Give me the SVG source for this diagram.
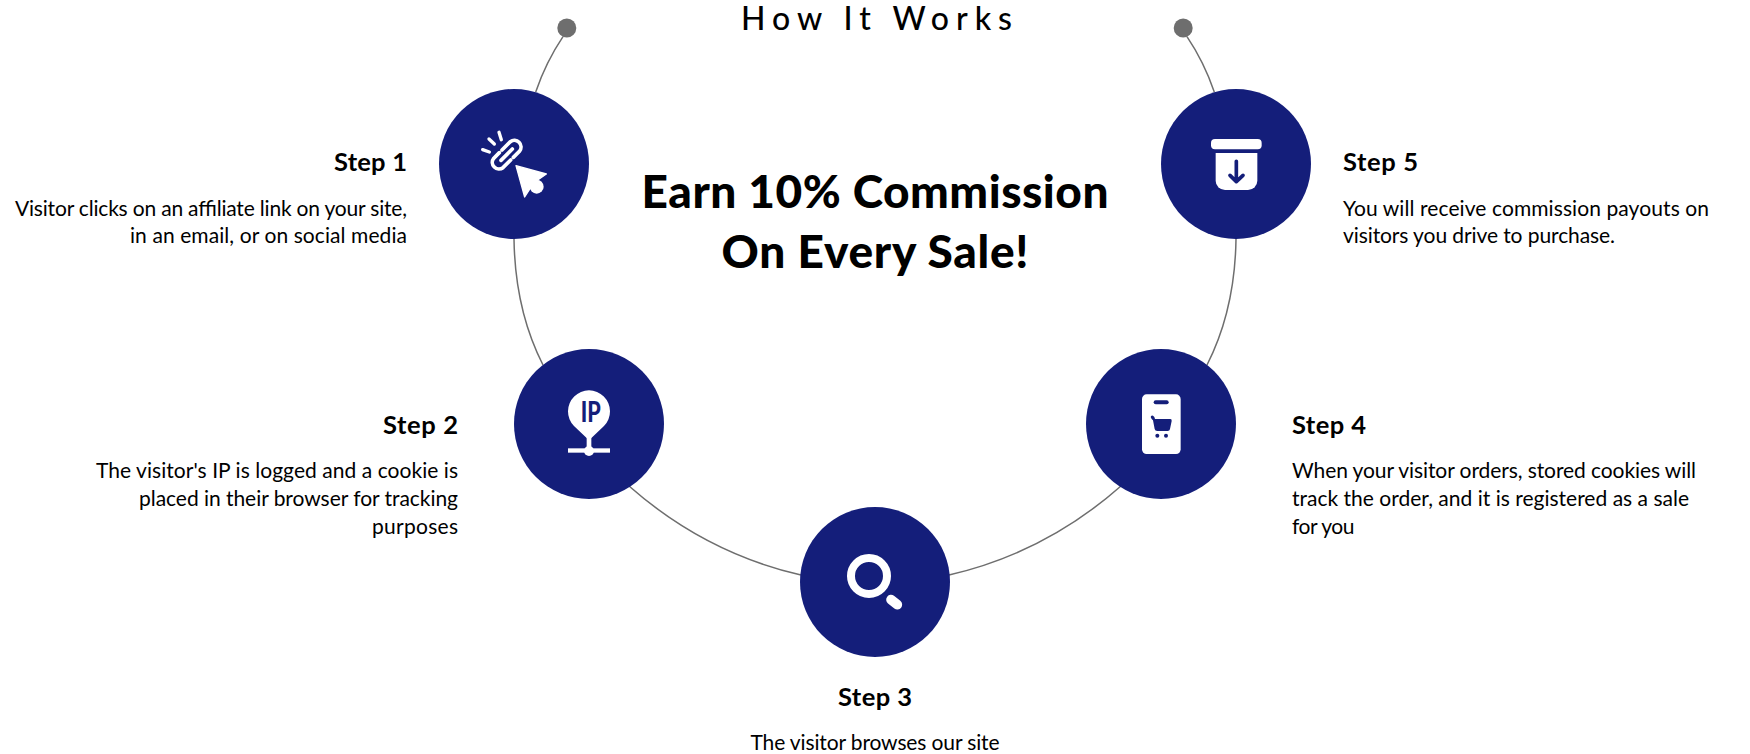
<svg xmlns="http://www.w3.org/2000/svg" width="1750" height="754" viewBox="0 0 1750 754">
<style>
text{font-family:"Lato","Liberation Sans",sans-serif;fill:#000}
.b{font-size:21px}
.s{font-size:25.500px;font-weight:700}
.h{font-size:46px;font-weight:900}
.c{fill:#141e7a}
.l{fill:none;stroke:#6e6e6e;stroke-width:1.500}
.w{fill:#fff}
.r{text-anchor:end}
.m{text-anchor:middle}
</style>
<rect width="1750" height="754" fill="#fff"/>
<g id="connectors">
<path class="l" d="M563 36.700Q546 62 535.700 92"/>
<path class="l" d="M514 239Q515 310 543 365"/>
<path class="l" d="M629 486Q705 553 801 575"/>
<path class="l" d="M949 575Q1045 553 1121 486"/>
<path class="l" d="M1207 365Q1235 310 1236 239"/>
<path class="l" d="M1214.300 92Q1204 62 1187 36.700"/>
<circle cx="566.800" cy="28" r="9.500" fill="#6e6e6e"/>
<circle cx="1183.200" cy="28" r="9.500" fill="#6e6e6e"/>
</g>
<g id="title"><text x="741" y="30" font-size="32" font-weight="500" textLength="271" lengthAdjust="spacing">How It Works</text></g>
<g id="headline">
<text class="h m" x="875" y="208" textLength="467" lengthAdjust="spacing">Earn 10% Commission</text>
<text class="h m" x="875" y="268" textLength="307" lengthAdjust="spacing">On Every Sale!</text>
</g>
<g id="step1">
<circle class="c" cx="514" cy="164" r="75"/>
<g transform="translate(480 128) scale(.33333)">
<path d="M66 66L91 41A20 20 0 0 1 119 69L100 88M58 74L41 91A20 20 0 0 0 69 119L92 96M63 97L97 63" fill="none" stroke="#fff" stroke-width="11" stroke-linecap="round"/>
<path d="M8 65L28 72M27 33L43 48M57 13L64 35" fill="none" stroke="#fff" stroke-width="10" stroke-linecap="round"/>
<path class="w" d="M108 113L199 138L170 158L150 182L134 207Z" stroke="#fff" stroke-width="4" stroke-linejoin="round"/>
<circle class="w" cx="170" cy="176" r="21"/>
</g>
</g>
<g id="step2">
<circle class="c" cx="589" cy="424" r="75"/>
<g transform="translate(505 345) scale(.33333)">
<path class="w" d="M252 286L207 243A63 63 0 1 1 297 243Z"/>
<rect class="w" x="245" y="270" width="14" height="45"/>
<rect class="w" x="189" y="310" width="126" height="13"/>
<circle class="w" cx="252" cy="318" r="15"/>
</g>
<text x="580.800" y="421.700" font-size="28" font-weight="900" textLength="20" lengthAdjust="spacingAndGlyphs" style="fill:#141e7a">IP</text>
</g>
<g id="step3">
<circle class="c" cx="875" cy="582" r="75"/>
<g transform="translate(800 500) scale(.33333)">
<circle cx="207" cy="228" r="54" fill="none" stroke="#fff" stroke-width="24"/>
<path d="M273 299L292 314" fill="none" stroke="#fff" stroke-width="29" stroke-linecap="round"/>
</g>
</g>
<g id="step4">
<circle class="c" cx="1161" cy="424" r="75"/>
<g transform="translate(1085 345) scale(.33333)">
<rect class="w" x="171" y="148" width="116" height="179" rx="14"/>
<rect class="c" x="206" y="166" width="45" height="12" rx="6"/>
<path class="c" d="M197 216Q198 210 204 212Q209 214 210 222L256 222Q261 222 260 228L255 252Q254 258 248 258L217 258Q210 258 209 252L204 226Q200 224 197 216Z"/>
<circle class="c" cx="217" cy="272" r="6"/>
<circle class="c" cx="243" cy="272" r="6"/>
</g>
</g>
<g id="step5">
<circle class="c" cx="1236" cy="164" r="75"/>
<g transform="translate(1160 80) scale(.33333)">
<rect class="w" x="153" y="177" width="152" height="31" rx="12"/>
<path class="w" d="M167 219H292V302A28 28 0 0 1 264 330H195A28 28 0 0 1 167 302Z"/>
<path d="M229 244V303M210 286L229 305L249 286" fill="none" stroke="#141e7a" stroke-width="11" stroke-linecap="round" stroke-linejoin="round"/>
</g>
</g>
<g id="label1">
<text class="s r" x="407" y="171" textLength="73">Step 1</text>
<text class="b r" x="407" y="216" textLength="392">Visitor clicks on an affiliate link on your site,</text>
<text class="b r" x="407" y="243" textLength="277">in an email, or on social media</text>
</g>
<g id="label2">
<text class="s r" x="458" y="434" textLength="75">Step 2</text>
<text class="b r" x="458" y="478" textLength="362">The visitor's IP is logged and a cookie is</text>
<text class="b r" x="458" y="506" textLength="319">placed in their browser for tracking</text>
<text class="b r" x="458" y="534" textLength="86">purposes</text>
</g>
<g id="label3">
<text class="s m" x="875" y="706" textLength="74">Step 3</text>
<text class="b m" x="875" y="750" textLength="249">The visitor browses our site</text>
</g>
<g id="label4">
<text class="s" x="1292" y="434" textLength="74">Step 4</text>
<text class="b" x="1292" y="478" textLength="404">When your visitor orders, stored cookies will</text>
<text class="b" x="1292" y="506" textLength="397">track the order, and it is registered as a sale</text>
<text class="b" x="1292" y="534" textLength="62.500">for you</text>
</g>
<g id="label5">
<text class="s" x="1343" y="171" textLength="75">Step 5</text>
<text class="b" x="1343" y="216" textLength="366">You will receive commission payouts on</text>
<text class="b" x="1343" y="243" textLength="272">visitors you drive to purchase.</text>
</g>
</svg>
